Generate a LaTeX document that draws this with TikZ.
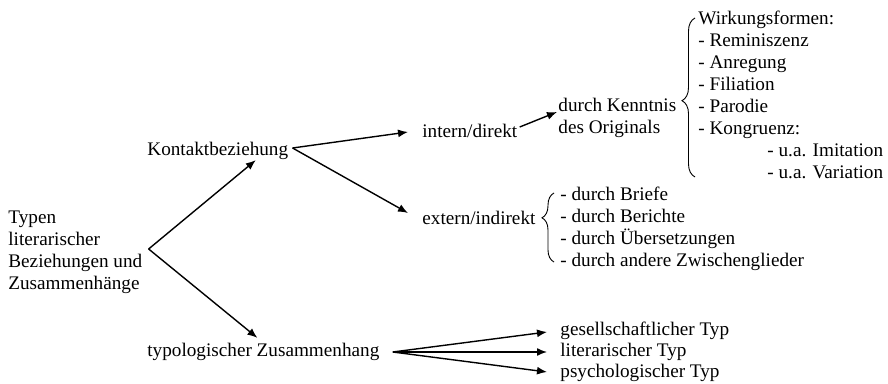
\documentclass[tikz,border=0pt]{standalone}
\usepackage{fontspec}
\setmainfont{LiberationSerif}[Extension=.ttf, UprightFont=*-Regular]
\usetikzlibrary{arrows.meta, positioning, calc, decorations.pathreplacing}

\begin{document}
\begin{tikzpicture}[x=0.5pt, y=-0.5pt,
    lbl/.style={inner sep=0pt, anchor=west, align=left,
                font=\fontsize{9.6pt}{11pt}\selectfont},
    arr/.style={-{Latex[length=5pt, width=4pt]}, line width=0.7pt},
    brc/.style={decorate, line width=0.45pt}]
    \useasboundingbox (0,0) rectangle (888,384);

    % Root
    \node[lbl] (typen) at (8,252) {Typen\\literarischer\\Beziehungen und\\Zusammenhänge};

    % Level 1
    \node[lbl] (kontakt) at (147,151) {Kontaktbeziehung};
    \node[lbl] (typolog) at (147,352) {typologischer Zusammenhang};

    % Level 2
    \node[lbl] (intern) at (422,131) {intern/direkt};
    \node[lbl] (extern) at (422,218) {extern/indirekt};

    % Level 3
    \node[lbl] (kenntnis) at (558,118) {durch Kenntnis\\des Originals};
    \node[lbl] (wirkung) at (698,95) {Wirkungsformen:\\- Reminiszenz\\- Anregung\\- Filiation\\- Parodie\\- Kongruenz:\\\hspace*{34.5pt}- u.a. Imitation\\\hspace*{34.5pt}- u.a. Variation};
    \node[lbl] (briefe) at (560,229) {- durch Briefe\\- durch Berichte\\- durch Übersetzungen\\- durch andere Zwischenglieder};

    % Types
    \node[lbl] (gesell) at (560,331) {gesellschaftlicher Typ};
    \node[lbl] (literar) at (560,352) {literarischer Typ};
    \node[lbl] (psycho) at (560,373) {psychologischer Typ};

    % Arrows
    \coordinate (fork) at ($(typen.east)+(6,-3)$);
    \draw[arr] (fork) -- ($(kontakt.south)+(38,0)$);
    \draw[arr] (fork) -- ($(typolog.north)+(-6,-5)$);
    \draw[arr] ($(kontakt.east)+(4,-3)$) -- ($(intern.west)+(-14,1)$);
    \draw[arr] ($(kontakt.east)+(4,-3)$) -- ($(extern.west)+(-14,-5)$);
    \draw[arr] ($(intern.east)+(2,-4)$) -- ($(kenntnis.west)+(-1,-6)$);
    \coordinate (tfork) at ($(typolog.east)+(13,0)$);
    \draw[arr] (tfork) -- ($(gesell.west)+(-13,1)$);
    \draw[arr] (tfork) -- ($(literar.west)+(-13,0)$);
    \draw[arr] (tfork) -- ($(psycho.west)+(-13,-1)$);

    % Braces
    \draw[brc, decoration={brace, amplitude=6.5pt, aspect=0.48}]
        ($(wirkung.west)+(-3,82)$) -- ($(wirkung.west)+(-3,-77)$);
    \draw[brc, decoration={brace, amplitude=6pt, aspect=0.64}]
        ($(briefe.west)+(-6,33)$) -- ($(briefe.west)+(-6,-36)$);
\end{tikzpicture}
\end{document}
